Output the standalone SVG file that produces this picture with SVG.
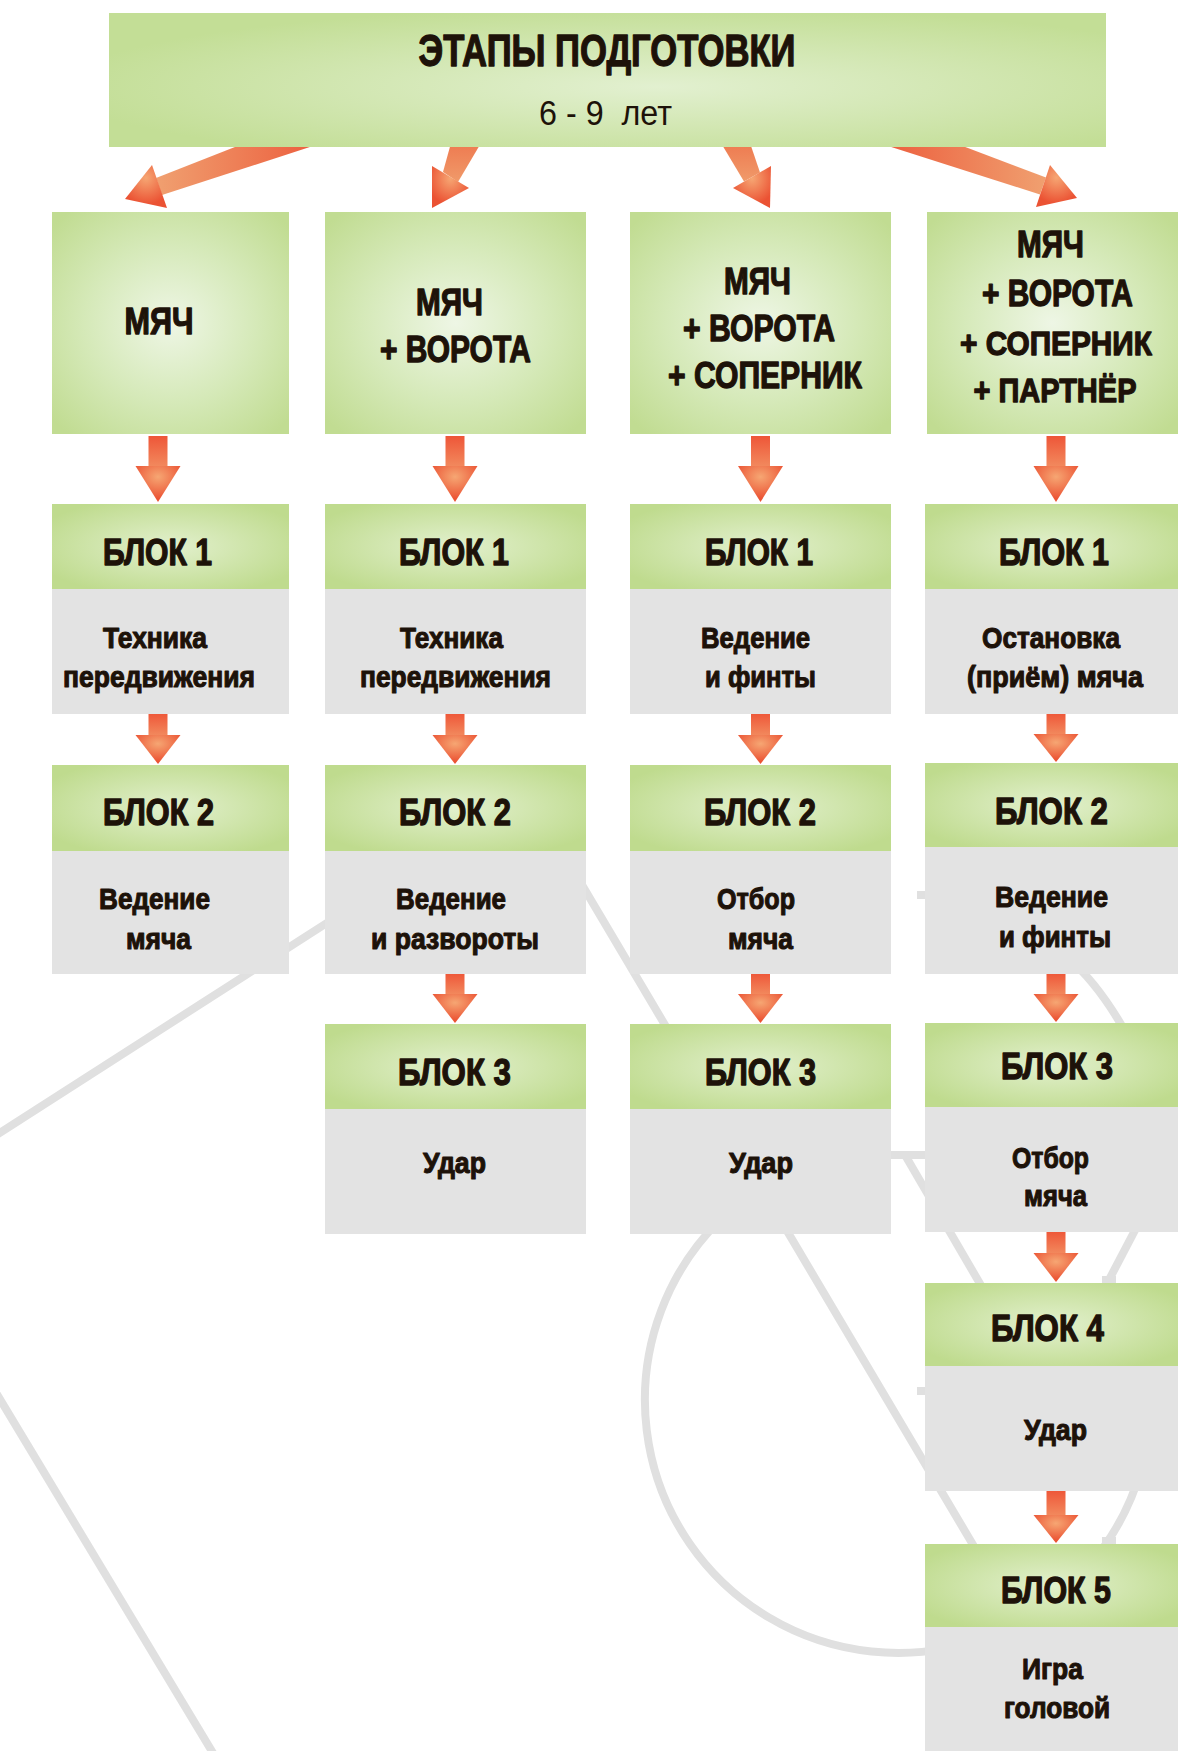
<svg xmlns="http://www.w3.org/2000/svg" width="1178" height="1751" viewBox="0 0 1178 1751">
<defs>
  <radialGradient id="gTop" cx="0.55" cy="0.55" r="0.6">
    <stop offset="0" stop-color="#e2f0d0"/>
    <stop offset="1" stop-color="#c3de96"/>
  </radialGradient>
  <radialGradient id="gBox" cx="0.5" cy="0.5" r="0.66">
    <stop offset="0" stop-color="#eef6e5"/>
    <stop offset="0.55" stop-color="#d5e9b8"/>
    <stop offset="1" stop-color="#c1dc92"/>
  </radialGradient>
  <radialGradient id="gHead" cx="0.5" cy="0.5" r="0.6">
    <stop offset="0" stop-color="#e2f0cd"/>
    <stop offset="1" stop-color="#bfdb8e"/>
  </radialGradient>
  <linearGradient id="gShaft" x1="0" y1="0" x2="0" y2="1">
    <stop offset="0" stop-color="#ee5638"/>
    <stop offset="1" stop-color="#f28a5e"/>
  </linearGradient>
  <radialGradient id="gTip" cx="0.5" cy="0.3" r="0.62">
    <stop offset="0" stop-color="#f6a673"/>
    <stop offset="1" stop-color="#eb5233"/>
  </radialGradient>
  <linearGradient id="gDiagL" x1="1" y1="0" x2="0" y2="0">
    <stop offset="0" stop-color="#ec5f3e"/>
    <stop offset="1" stop-color="#f0a070"/>
  </linearGradient>
  <linearGradient id="gDiagR" x1="0" y1="0" x2="1" y2="0">
    <stop offset="0" stop-color="#ec5f3e"/>
    <stop offset="1" stop-color="#f0a070"/>
  </linearGradient>
  <linearGradient id="gDiagV" x1="0" y1="0" x2="0" y2="1">
    <stop offset="0" stop-color="#ee7a50"/>
    <stop offset="1" stop-color="#f09a6a"/>
  </linearGradient>
</defs>
<style>
  .pitch{fill:none;stroke:#e0e0e0;stroke-width:8}
  .top{fill:url(#gTop)}
  .box{fill:url(#gBox)}
  .hd{fill:url(#gHead)}
  .bd{fill:#e3e3e3}
  .sh{fill:url(#gShaft)}
  .hh{fill:url(#gTip)}
  .t{font-family:"Liberation Sans",Arial,sans-serif;font-weight:bold;fill:#1d1209;stroke:#1d1209;stroke-width:1.3px;stroke-linejoin:round;text-anchor:middle}
  .reg{font-weight:normal;stroke:none}
  .f44{font-size:44px}
  .f35{font-size:35px}
  .f37{font-size:37px}
  .f34{font-size:34px}
  .f36{font-size:36px}
  .f30{font-size:30px;stroke-width:1.1px}
</style>

<g id="pitch" class="pitch">
  <line x1="-5" y1="1136" x2="400" y2="876"/>
  <line x1="-5" y1="1391" x2="216" y2="1758"/>
  <line x1="540" y1="814" x2="985" y2="1565"/>
  <path d="M 720,1220 A 253 253 0 1 0 1141,1470"/>
  <path d="M 1068,958 Q 1100,985 1130,1040"/>
  <line x1="1143" y1="1215" x2="1100" y2="1297"/>
  <line x1="884" y1="1155" x2="1000" y2="1155"/>
  <line x1="905" y1="1155" x2="1000" y2="1318"/>
  <line x1="917" y1="895" x2="1000" y2="895"/>
  <line x1="917" y1="1391" x2="1000" y2="1391"/>
  <line x1="1102" y1="1280" x2="1116" y2="1280"/>
  <line x1="1102" y1="1541" x2="1116" y2="1541"/>
</g>

<g id="connectors">
  <g id="e-stages-ball">
    <polygon fill="url(#gDiagL)" points="240,145 156,178 162,195 316,145"/>
    <polygon class="hh" points="152,165 125,199 167,208"/>
  </g>
  <g id="e-stages-goal">
    <polygon fill="url(#gDiagV)" points="451,143 443,172 458,182 481,143"/>
    <polygon class="hh" points="432,166 432,208 469,188"/>
  </g>
  <g id="e-stages-opp">
    <polygon fill="url(#gDiagV)" points="721,143 744,181.5 760,172.5 750,143"/>
    <polygon class="hh" points="733,188 770,208 771,166"/>
  </g>
  <g id="e-stages-partner">
    <polygon fill="url(#gDiagR)" points="885,145 1040,194.5 1046,177.5 960,145"/>
    <polygon class="hh" points="1036,207 1077,198 1050,165"/>
  </g>

  <g id="e-c1-r0"><rect class="sh" x="148.5" y="436" width="19" height="31"/><polygon class="hh" points="135.5,466 180.5,466 158,502"/></g>
  <g id="e-c1-r1"><rect class="sh" x="148.5" y="713" width="19" height="23"/><polygon class="hh" points="135.5,735 180.5,735 158,764"/></g>

  <g id="e-c2-r0"><rect class="sh" x="445.5" y="436" width="19" height="31"/><polygon class="hh" points="432.5,466 477.5,466 455,502"/></g>
  <g id="e-c2-r1"><rect class="sh" x="445.5" y="713" width="19" height="23"/><polygon class="hh" points="432.5,735 477.5,735 455,764"/></g>
  <g id="e-c2-r2"><rect class="sh" x="445.5" y="973" width="19" height="22"/><polygon class="hh" points="432.5,994 477.5,994 455,1023"/></g>

  <g id="e-c3-r0"><rect class="sh" x="751" y="436" width="19" height="31"/><polygon class="hh" points="738,466 783,466 760.5,502"/></g>
  <g id="e-c3-r1"><rect class="sh" x="751" y="713" width="19" height="23"/><polygon class="hh" points="738,735 783,735 760.5,764"/></g>
  <g id="e-c3-r2"><rect class="sh" x="751" y="973" width="19" height="22"/><polygon class="hh" points="738,994 783,994 760.5,1023"/></g>

  <g id="e-c4-r0"><rect class="sh" x="1046.5" y="436" width="19" height="31"/><polygon class="hh" points="1033.5,466 1078.5,466 1056,502"/></g>
  <g id="e-c4-r1"><rect class="sh" x="1046.5" y="713" width="19" height="22"/><polygon class="hh" points="1033.5,734 1078.5,734 1056,762"/></g>
  <g id="e-c4-r2"><rect class="sh" x="1046.5" y="973" width="19" height="22"/><polygon class="hh" points="1033.5,994 1078.5,994 1056,1022"/></g>
  <g id="e-c4-r3"><rect class="sh" x="1046.5" y="1231" width="19" height="23"/><polygon class="hh" points="1033.5,1253 1078.5,1253 1056,1282"/></g>
  <g id="e-c4-r4"><rect class="sh" x="1046.5" y="1490" width="19" height="26"/><polygon class="hh" points="1033.5,1515 1078.5,1515 1056,1543"/></g>
</g>

<g id="n-stages">
  <rect class="top" x="109" y="13" width="997" height="134"/>
  <text class="t f44" x="607" y="66" textLength="377" lengthAdjust="spacingAndGlyphs">ЭТАПЫ ПОДГОТОВКИ</text>
  <text class="t reg f35" x="605.5" y="125" textLength="133" lengthAdjust="spacingAndGlyphs" xml:space="preserve">6 - 9  лет</text>
</g>

<g id="n-ball">
  <rect class="box" x="52" y="212" width="237" height="222"/>
  <text class="t f37" x="159" y="334" textLength="69" lengthAdjust="spacingAndGlyphs">МЯЧ</text>
</g>
<g id="n-goal">
  <rect class="box" x="325" y="212" width="261" height="222"/>
  <text class="t f37" x="449.5" y="315" textLength="67" lengthAdjust="spacingAndGlyphs">МЯЧ</text>
  <text class="t f37" x="455.5" y="362" textLength="151" lengthAdjust="spacingAndGlyphs">+ ВОРОТА</text>
</g>
<g id="n-opp">
  <rect class="box" x="630" y="212" width="261" height="222"/>
  <text class="t f37" x="757.5" y="294" textLength="67" lengthAdjust="spacingAndGlyphs">МЯЧ</text>
  <text class="t f37" x="759" y="341" textLength="152" lengthAdjust="spacingAndGlyphs">+ ВОРОТА</text>
  <text class="t f37" x="765" y="388" textLength="194" lengthAdjust="spacingAndGlyphs">+ СОПЕРНИК</text>
</g>
<g id="n-partner">
  <rect class="box" x="927" y="212" width="251" height="222"/>
  <text class="t f37" x="1050.5" y="257" textLength="67" lengthAdjust="spacingAndGlyphs">МЯЧ</text>
  <text class="t f37" x="1057.5" y="306" textLength="151" lengthAdjust="spacingAndGlyphs">+ ВОРОТА</text>
  <text class="t f34" x="1056" y="355" textLength="192" lengthAdjust="spacingAndGlyphs">+ СОПЕРНИК</text>
  <text class="t f34" x="1055" y="402" textLength="163" lengthAdjust="spacingAndGlyphs">+ ПАРТНЁР</text>
</g>

<g id="n-c1-b1">
  <rect class="hd" x="52" y="504" width="237" height="85"/>
  <rect class="bd" x="52" y="589" width="237" height="125"/>
  <text class="t f36" x="157.5" y="565" textLength="109" lengthAdjust="spacingAndGlyphs">БЛОК 1</text>
  <text class="t f30" x="155" y="648" textLength="104" lengthAdjust="spacingAndGlyphs">Техника</text>
  <text class="t f30" x="159" y="687" textLength="192" lengthAdjust="spacingAndGlyphs">передвижения</text>
</g>
<g id="n-c1-b2">
  <rect class="hd" x="52" y="765" width="237" height="86"/>
  <rect class="bd" x="52" y="851" width="237" height="123"/>
  <text class="t f36" x="158.5" y="825" textLength="111" lengthAdjust="spacingAndGlyphs">БЛОК 2</text>
  <text class="t f30" x="154.5" y="909" textLength="111" lengthAdjust="spacingAndGlyphs">Ведение</text>
  <text class="t f30" x="158.5" y="949" textLength="65" lengthAdjust="spacingAndGlyphs">мяча</text>
</g>

<g id="n-c2-b1">
  <rect class="hd" x="325" y="504" width="261" height="85"/>
  <rect class="bd" x="325" y="589" width="261" height="125"/>
  <text class="t f36" x="454" y="565" textLength="110" lengthAdjust="spacingAndGlyphs">БЛОК 1</text>
  <text class="t f30" x="451.5" y="648" textLength="103" lengthAdjust="spacingAndGlyphs">Техника</text>
  <text class="t f30" x="455.5" y="687" textLength="191" lengthAdjust="spacingAndGlyphs">передвижения</text>
</g>
<g id="n-c2-b2">
  <rect class="hd" x="325" y="765" width="261" height="86"/>
  <rect class="bd" x="325" y="851" width="261" height="123"/>
  <text class="t f36" x="455" y="825" textLength="112" lengthAdjust="spacingAndGlyphs">БЛОК 2</text>
  <text class="t f30" x="451" y="909" textLength="110" lengthAdjust="spacingAndGlyphs">Ведение</text>
  <text class="t f30" x="455" y="949" textLength="168" lengthAdjust="spacingAndGlyphs">и развороты</text>
</g>
<g id="n-c2-b3">
  <rect class="hd" x="325" y="1024" width="261" height="85"/>
  <rect class="bd" x="325" y="1109" width="261" height="125"/>
  <text class="t f36" x="454.5" y="1085" textLength="113" lengthAdjust="spacingAndGlyphs">БЛОК 3</text>
  <text class="t f30" x="454.5" y="1173" textLength="63" lengthAdjust="spacingAndGlyphs">Удар</text>
</g>

<g id="n-c3-b1">
  <rect class="hd" x="630" y="504" width="261" height="85"/>
  <rect class="bd" x="630" y="589" width="261" height="125"/>
  <text class="t f36" x="759" y="565" textLength="108" lengthAdjust="spacingAndGlyphs">БЛОК 1</text>
  <text class="t f30" x="755.5" y="648" textLength="109" lengthAdjust="spacingAndGlyphs">Ведение</text>
  <text class="t f30" x="760.5" y="687" textLength="111" lengthAdjust="spacingAndGlyphs">и финты</text>
</g>
<g id="n-c3-b2">
  <rect class="hd" x="630" y="765" width="261" height="86"/>
  <rect class="bd" x="630" y="851" width="261" height="123"/>
  <text class="t f36" x="760" y="825" textLength="112" lengthAdjust="spacingAndGlyphs">БЛОК 2</text>
  <text class="t f30" x="756" y="909" textLength="78" lengthAdjust="spacingAndGlyphs">Отбор</text>
  <text class="t f30" x="760.5" y="949" textLength="65" lengthAdjust="spacingAndGlyphs">мяча</text>
</g>
<g id="n-c3-b3">
  <rect class="hd" x="630" y="1024" width="261" height="85"/>
  <rect class="bd" x="630" y="1109" width="261" height="125"/>
  <text class="t f36" x="760.5" y="1085" textLength="111" lengthAdjust="spacingAndGlyphs">БЛОК 3</text>
  <text class="t f30" x="761" y="1173" textLength="64" lengthAdjust="spacingAndGlyphs">Удар</text>
</g>

<g id="n-c4-b1">
  <rect class="hd" x="925" y="504" width="253" height="85"/>
  <rect class="bd" x="925" y="589" width="253" height="125"/>
  <text class="t f36" x="1054" y="565" textLength="110" lengthAdjust="spacingAndGlyphs">БЛОК 1</text>
  <text class="t f30" x="1051" y="648" textLength="138" lengthAdjust="spacingAndGlyphs">Остановка</text>
  <text class="t f30" x="1055" y="687" textLength="176" lengthAdjust="spacingAndGlyphs">(приём) мяча</text>
</g>
<g id="n-c4-b2">
  <rect class="hd" x="925" y="763" width="253" height="84"/>
  <rect class="bd" x="925" y="847" width="253" height="127"/>
  <text class="t f36" x="1051.5" y="824" textLength="113" lengthAdjust="spacingAndGlyphs">БЛОК 2</text>
  <text class="t f30" x="1051.5" y="907" textLength="113" lengthAdjust="spacingAndGlyphs">Ведение</text>
  <text class="t f30" x="1055" y="947" textLength="112" lengthAdjust="spacingAndGlyphs">и финты</text>
</g>
<g id="n-c4-b3">
  <rect class="hd" x="925" y="1023" width="253" height="84"/>
  <rect class="bd" x="925" y="1107" width="253" height="125"/>
  <text class="t f36" x="1057" y="1079" textLength="112" lengthAdjust="spacingAndGlyphs">БЛОК 3</text>
  <text class="t f30" x="1050.5" y="1168" textLength="77" lengthAdjust="spacingAndGlyphs">Отбор</text>
  <text class="t f30" x="1055.5" y="1206" textLength="63" lengthAdjust="spacingAndGlyphs">мяча</text>
</g>
<g id="n-c4-b4">
  <rect class="hd" x="925" y="1283" width="253" height="83"/>
  <rect class="bd" x="925" y="1366" width="253" height="125"/>
  <text class="t f36" x="1047.5" y="1341" textLength="113" lengthAdjust="spacingAndGlyphs">БЛОК 4</text>
  <text class="t f30" x="1055.5" y="1440" textLength="63" lengthAdjust="spacingAndGlyphs">Удар</text>
</g>
<g id="n-c4-b5">
  <rect class="hd" x="925" y="1544" width="253" height="83"/>
  <rect class="bd" x="925" y="1627" width="253" height="124"/>
  <text class="t f36" x="1056" y="1603" textLength="110" lengthAdjust="spacingAndGlyphs">БЛОК 5</text>
  <text class="t f30" x="1052.5" y="1679" textLength="61" lengthAdjust="spacingAndGlyphs">Игра</text>
  <text class="t f30" x="1057" y="1718" textLength="106" lengthAdjust="spacingAndGlyphs">головой</text>
</g>
</svg>
